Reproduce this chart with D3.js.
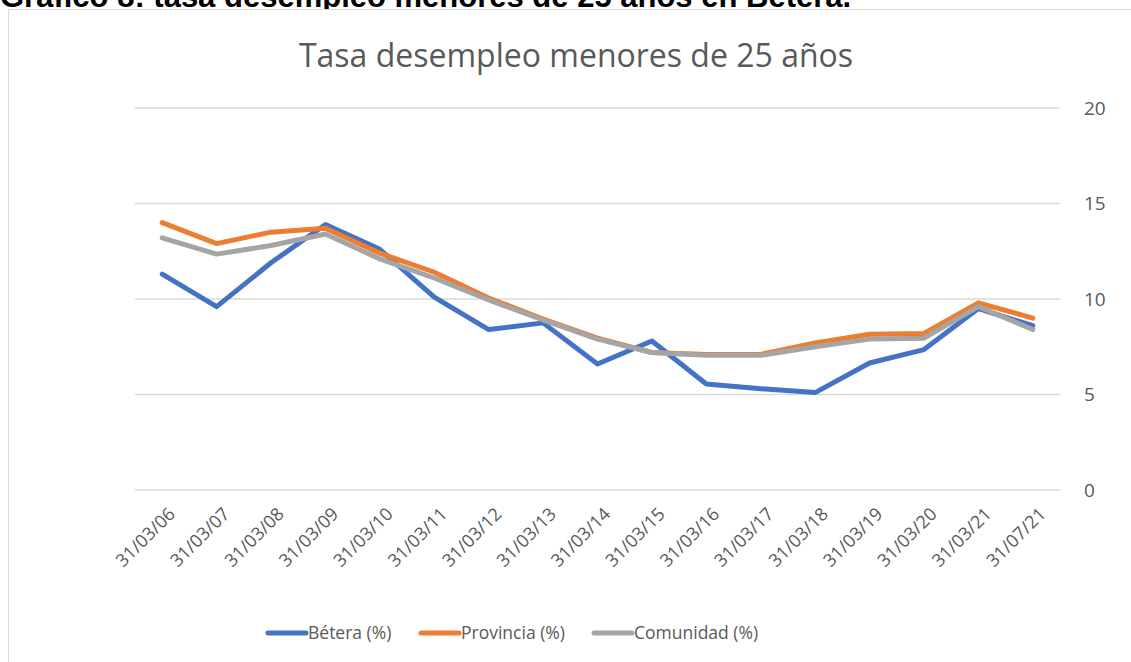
<!DOCTYPE html>
<html>
<head>
<meta charset="utf-8">
<script src="https://cdn.jsdelivr.net/npm/d3@7"></script>
<style>
  body { margin: 0; background: #fff; overflow: hidden; }
</style>
</head>
<body>
<div id="chart"></div>
<script>
const categories = ["31/03/06","31/03/07","31/03/08","31/03/09","31/03/10","31/03/11","31/03/12","31/03/13","31/03/14","31/03/15","31/03/16","31/03/17","31/03/18","31/03/19","31/03/20","31/03/21","31/07/21"];
const betera    = [11.3, 9.6, 11.9, 13.9, 12.6, 10.1, 8.4, 8.75, 6.6, 7.8, 5.55, 5.3, 5.1, 6.65, 7.35, 9.5, 8.6];
const provincia = [14.0, 12.9, 13.5, 13.7, 12.4, 11.4, 10.05, 8.95, 7.95, 7.2, 7.1, 7.1, 7.7, 8.15, 8.2, 9.8, 9.0];
const comunidad = [13.2, 12.35, 12.8, 13.4, 12.1, 11.1, 9.95, 8.9, 7.9, 7.2, 7.05, 7.05, 7.5, 7.9, 7.95, 9.6, 8.4];
const yTicks = [0, 5, 10, 15, 20];

const series = [
  { name: "Bétera (%)", values: betera, color: "#4472C4" },
  { name: "Provincia (%)", values: provincia, color: "#ED7D31" },
  { name: "Comunidad (%)", values: comunidad, color: "#A5A5A5" }
];

const width = 1131, height = 662;
const font = "'Open Sans', sans-serif";
const svg = d3.select("#chart").append("svg")
  .attr("width", width).attr("height", height);

// heading above the chart box, cut by the top of the page as in the source
svg.append("text")
  .attr("x", 0).attr("y", 7)
  .style("font-family", "'Liberation Sans', Arial, sans-serif")
  .style("font-weight", "bold")
  .style("font-size", "31px")
  .attr("fill", "#000")
  .text("Gráfico 8: tasa desempleo menores de 25 años en Bétera.");

// chart box
svg.append("rect")
  .attr("x", 8.5).attr("y", 9.5)
  .attr("width", 1140).attr("height", 670)
  .attr("fill", "#fff").attr("stroke", "#d9d9d9");

const x = d3.scaleBand().domain(categories).range([135, 1060]);
const y = d3.scaleLinear().domain([0, 20]).range([490, 108]);

// gridlines
svg.append("g").selectAll("line").data(yTicks).enter().append("line")
  .attr("x1", 135).attr("x2", 1060)
  .attr("y1", d => y(d)).attr("y2", d => y(d))
  .attr("stroke", "#d9d9d9").attr("stroke-width", 1.3);

// right axis labels
const yAxis = svg.append("g")
  .attr("transform", "translate(1060,0)")
  .call(d3.axisRight(y).tickValues(yTicks).tickSize(0).tickPadding(24));
yAxis.select(".domain").remove();
yAxis.selectAll("text")
  .style("font-family", font).style("font-size", "19px").attr("fill", "#595959");

// x axis labels
const xAxis = svg.append("g")
  .attr("transform", "translate(0,490)")
  .call(d3.axisBottom(x).tickSize(0));
xAxis.select(".domain").remove();
xAxis.selectAll("text")
  .style("font-family", font).style("font-size", "18px").attr("fill", "#595959")
  .attr("text-anchor", "end")
  .attr("dx", 0).attr("dy", 0)
  .attr("transform", "translate(12,23) rotate(-45)");

// lines
const line = d3.line()
  .x((d, i) => x(categories[i]) + x.bandwidth() / 2)
  .y(d => y(d));

svg.append("g").selectAll("path").data(series).enter().append("path")
  .attr("d", d => line(d.values))
  .attr("fill", "none")
  .attr("stroke", d => d.color)
  .attr("stroke-width", 5)
  .attr("stroke-linejoin", "round")
  .attr("stroke-linecap", "round");

// title
svg.append("text")
  .attr("x", 576).attr("y", 67)
  .attr("text-anchor", "middle")
  .style("font-family", font).style("font-size", "32px")
  .attr("fill", "#595959")
  .text("Tasa desempleo menores de 25 años");

// legend
const legendX = [268, 421, 594];
const legend = svg.append("g").selectAll("g").data(series).enter().append("g")
  .attr("transform", (d, i) => `translate(${legendX[i]},633)`);
legend.append("line")
  .attr("x1", 0).attr("x2", 38)
  .attr("stroke", d => d.color).attr("stroke-width", 5)
  .attr("stroke-linecap", "round");
legend.append("text")
  .attr("x", 40).attr("y", 6)
  .style("font-family", font).style("font-size", "17.5px")
  .attr("fill", "#595959")
  .text(d => d.name);
</script>
</body>
</html>
